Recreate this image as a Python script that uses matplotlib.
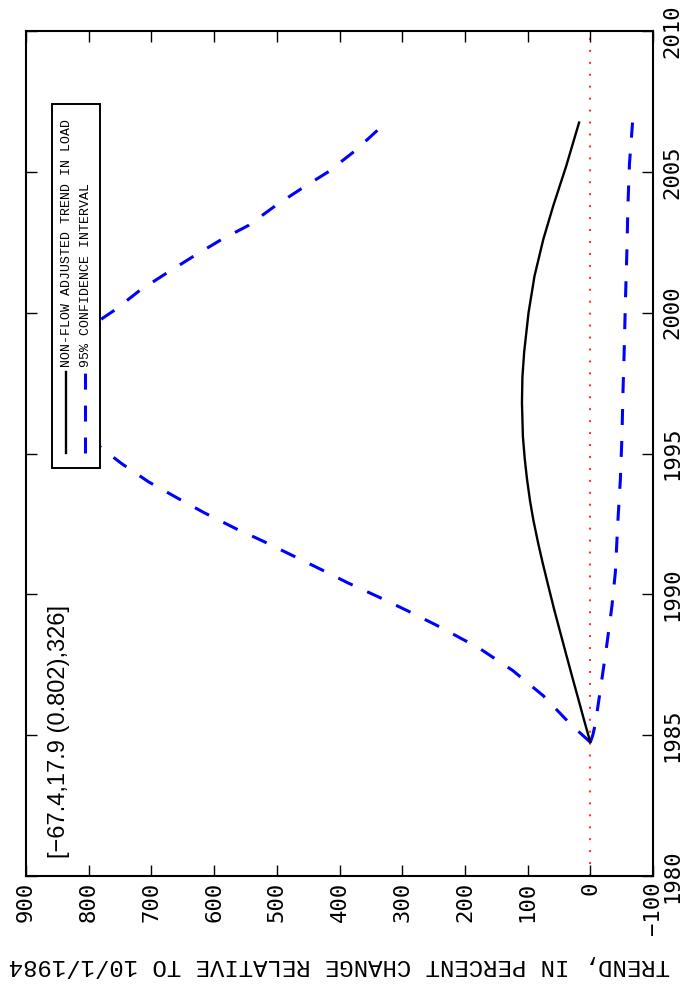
import matplotlib
matplotlib.use("Agg")
import matplotlib.pyplot as plt
from matplotlib.patches import Rectangle
from matplotlib.lines import Line2D

plt.rcParams['lines.scale_dashes'] = False

# ---------------- data ----------------
trend_years = [1984.75, 1985.5, 1986.3, 1987.1, 1987.95, 1988.7, 1989.45, 1990.3,
               1991.1, 1991.8, 1992.6, 1993.3, 1994.1, 1994.8, 1995.6, 1996.8,
               1997.7, 1998.6, 2000.0, 2001.3, 2002.6, 2003.8, 2005.2, 2006.75]
trend_vals = [0, 9.5, 19.3, 29.2, 39.5, 48.5, 57.5, 67,
              75.8, 83, 90.5, 96, 101, 104.5, 107.5, 109,
              108.3, 105.5, 98.5, 89, 75, 59, 38.5, 17.9]

upper_years = [1984.75, 1985.4, 1986.4, 1987.3, 1988.1, 1988.9, 1989.4, 1989.9,
               1990.4, 1990.9, 1991.4, 1991.9, 1992.35, 1992.9, 1993.4, 1994.0,
               1994.65, 1995.2, 1996.3, 1997.45, 1998.6, 1999.8, 2000.1, 2000.8,
               2001.4, 2002.0, 2002.6, 2003.1, 2003.8, 2004.4, 2005.0, 2005.75,
               2006.75]
upper_vals = [0, 32, 75, 124, 178, 245, 290, 337,
              386, 431, 477, 523, 567, 616, 657, 705,
              748, 780, 835, 850, 830, 778, 758, 718,
              676, 633, 588, 545, 502, 461, 418, 375,
              326]

lower_years = [1984.75, 1985.0, 1985.4, 1986.6, 1988.25, 1989.6, 1990.8, 1992.6,
               1994.1, 1995.6, 1997.1, 1998.6, 2000.4, 2002.3, 2003.8, 2005.3,
               2006.75]
lower_vals = [0, -4, -8, -16, -26.6, -34.6, -40, -44,
              -48, -50.5, -52, -54, -56, -58.5, -60, -62.5,
              -67.4]

trend_ticks = [900, 800, 700, 600, 500, 400, 300, 200, 100, 0, -100]
trend_tick_labels = ['900', '800', '700', '600', '500', '400', '300', '200', '100', '0', '\u2212100']
year_ticks = [1980, 1985, 1990, 1995, 2000, 2005, 2010]
year_tick_labels = ['1980', '1985', '1990', '1995', '2000', '2005', '2010']

legend_labels = ['NON-FLOW ADJUSTED TREND IN LOAD', '95% CONFIDENCE INTERVAL']
annotation = '[\u221267.4,17.9 (0.802),326]'
axis_label = 'TREND, IN PERCENT CHANGE RELATIVE TO 10/1/1984'

# ---------------- figure ----------------
W, H = 686, 986
fig = plt.figure(figsize=(W / 100, H / 100), dpi=100)
L, R, T, B = 26, 653, 31, 876
ax = fig.add_axes([L / W, 1 - B / H, (R - L) / W, (B - T) / H])
ax.set_xlim(900, -100)
ax.set_ylim(1980, 2010)

ax.axvline(0, color='#ff3030', lw=1.5, ls=(0, (1.4, 7.2)), zorder=1)
ax.plot(trend_vals, trend_years, color='black', lw=1.7, zorder=3)
ax.plot(upper_vals, upper_years, color='blue', lw=2.2, ls=(0, (11.5, 11.5)), zorder=2)
ax.plot(lower_vals, lower_years, color='blue', lw=2.2, ls=(0, (11.5, 11.5)), zorder=2)

for s in ax.spines.values():
    s.set_linewidth(1.5)

ax.set_xticks(trend_ticks)
ax.set_xticklabels(trend_tick_labels, rotation=90, va='top', ha='center',
                   fontfamily='DejaVu Sans Mono', fontsize=16)
ax.set_yticks(year_ticks)
ax.tick_params(axis='both', direction='in', length=8, width=1,
               top=True, right=True, left=True, bottom=True)
ax.tick_params(axis='x', pad=4)
ax.tick_params(axis='y', labelleft=False, labelright=True, pad=7)
ax.set_yticklabels(year_tick_labels, rotation=90, va='center', ha='left',
                   fontfamily='DejaVu Sans Mono', fontsize=16)

# annotation text
ax.text((59 - L) / (R - L), (B - 858) / (B - T), annotation, transform=ax.transAxes,
        rotation=90, ha='center', va='bottom', fontfamily='Liberation Sans', fontsize=17,
        zorder=5)

# manual rotated legend
def ax_x(px):
    return (px - L) / (R - L)

def ax_y(py):
    return (B - py) / (B - T)

box = Rectangle((ax_x(52), ax_y(468)), ax_x(100) - ax_x(52), ax_y(104) - ax_y(468),
                transform=ax.transAxes, facecolor='white', edgecolor='black',
                lw=1.4, zorder=10)
ax.add_patch(box)
ax.add_line(Line2D([ax_x(66), ax_x(66)], [ax_y(453), ax_y(372)], transform=ax.transAxes,
                   color='black', lw=1.7, zorder=11))
ax.add_line(Line2D([ax_x(85), ax_x(85)], [ax_y(453), ax_y(372)], transform=ax.transAxes,
                   color='blue', lw=2.2, ls=(0, (11.5, 11.5)), zorder=11))
ax.text(ax_x(67), ax_y(367), legend_labels[0], transform=ax.transAxes, rotation=90,
        ha='center', va='bottom', fontfamily='Liberation Mono', fontsize=9.5, zorder=12)
ax.text(ax_x(86), ax_y(367), legend_labels[1], transform=ax.transAxes, rotation=90,
        ha='center', va='bottom', fontfamily='Liberation Mono', fontsize=9.5, zorder=12)

# axis label (upside down)
fig.text((L + R) / 2 / W, 1 - 965 / H, axis_label, rotation=180, ha='center', va='center',
         fontfamily='Liberation Mono', fontsize=17.3)

fig.savefig('out.png', dpi=100)
